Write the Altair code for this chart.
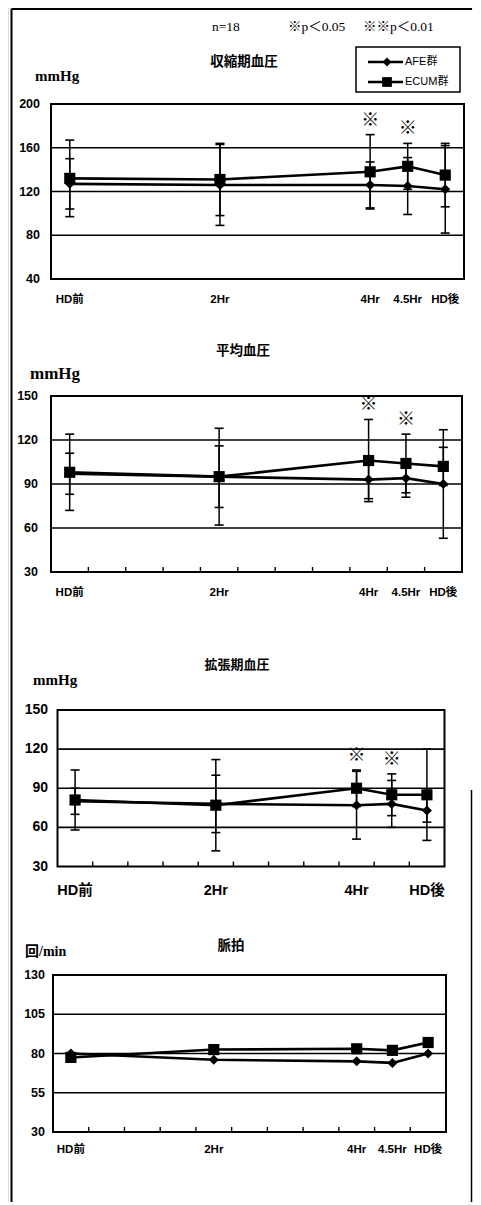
import altair as alt
import pandas as pd

# ---------------- data ----------------
times = [0, 2, 4, 4.5, 5]
time_labels = ["HD前", "2Hr", "4Hr", "4.5Hr", "HD後"]
groups = ["AFE群", "ECUM群"]

# 収縮期血圧
sys_afe = [127, 126, 126, 125, 122]
sys_afe_sd = [23, 37, 21, 26, 40]
sys_ecum = [132, 131, 138, 143, 135]
sys_ecum_sd = [35, 33, 34, 21, 29]
sys_sig = ["", "", "※", "※", ""]
sys_ticks = [40, 80, 120, 160, 200]

# 平均血圧
map_afe = [97, 95, 93, 94, 90]
map_afe_sd = [14, 21, 13, 13, 37]
map_ecum = [98, 95, 106, 104, 102]
map_ecum_sd = [26, 33, 28, 20, 13]
map_sig = ["", "", "※", "※", ""]
map_ticks = [30, 60, 90, 120, 150]

# 拡張期血圧
dia_afe = [80, 78, 77, 78, 73]
dia_afe_sd = [10, 22, 26, 18, 9]
dia_ecum = [81, 77, 90, 85, 85]
dia_ecum_sd = [23, 35, 14, 16, 35]
dia_sig = ["", "", "※", "※", ""]
dia_ticks = [30, 60, 90, 120, 150]

# 脈拍
pulse_afe = [80, 76, 75, 74, 80]
pulse_ecum = [77.5, 82.5, 83, 82, 87]
pulse_ticks = [30, 55, 80, 105, 130]

x_domain = [-0.25, 5.25]
minor_ticks = [0.25, 0.75, 1.25, 1.75, 2.25, 2.75, 3.25, 3.75, 4.25, 4.75]

SANS = "Liberation Sans, Arial, Noto Sans CJK JP"
CJK = "Noto Sans CJK JP"
SERIF = "Liberation Serif, Noto Sans CJK JP"


def series_df(afe, afe_sd, ecum, ecum_sd, sig):
    rows = []
    for i, t in enumerate(times):
        for g, vals, sds in ((groups[0], afe, afe_sd), (groups[1], ecum, ecum_sd)):
            sd = sds[i] if sds else 0
            rows.append(dict(t=t, group=g, mean=vals[i], lo=vals[i] - sd, hi=vals[i] + sd,
                             sig=(sig[i] if (sig and g == groups[1]) else "")))
    return pd.DataFrame(rows)


def panel(cfg):
    ticks = cfg["ticks"]
    xs = alt.Scale(domain=x_domain, range=cfg["xr"], nice=False, zero=False)
    ys = alt.Scale(domain=[ticks[0], ticks[-1]], range=cfg["yr"], nice=False, zero=False)

    def X(f):
        return alt.X(f, type="quantitative", scale=xs, axis=None)

    def Y(f):
        return alt.Y(f, type="quantitative", scale=ys, axis=None)

    df = series_df(cfg["afe"], cfg["afe_sd"], cfg["ecum"], cfg["ecum_sd"], cfg["sig"])
    layers = []

    grid_df = pd.DataFrame({"v": ticks[1:-1], "x0": x_domain[0], "x1": x_domain[1]})
    layers.append(alt.Chart(grid_df).mark_rule(color="black", strokeWidth=1.6).encode(
        x=X("x0"), x2=alt.X2("x1"), y=Y("v")))

    if cfg["minor"]:
        mt_df = pd.DataFrame({"m": minor_ticks, "b": ticks[0]})
        layers.append(alt.Chart(mt_df).mark_tick(orient="vertical", size=5, thickness=1.4,
                                                 color="black", yOffset=-2.5, opacity=1).encode(
            x=X("m"), y=Y("b")))

    yl_df = pd.DataFrame({"v": ticks})
    layers.append(alt.Chart(yl_df).mark_text(align="right", baseline="middle", font=SANS,
                                             fontSize=cfg["ylab_size"], fontWeight="bold",
                                             color="black").encode(
        y=Y("v"), x=alt.value(cfg["ylab_x"]), text=alt.Text("v:Q", format="d")))

    idx = cfg["xlab_idx"]
    xl_df = pd.DataFrame({"t": [times[i] for i in idx], "lab": [time_labels[i] for i in idx]})
    layers.append(alt.Chart(xl_df).mark_text(align="center", baseline="middle", font=SANS,
                                             fontSize=cfg["xlab_size"], fontWeight="bold",
                                             color="black").encode(
        x=X("t"), y=alt.value(cfg["xlab_y"]), text="lab:N"))

    if cfg["afe_sd"]:
        layers.append(alt.Chart(df).mark_rule(color="black", strokeWidth=1.5).encode(
            x=X("t"), y=Y("lo"), y2=alt.Y2("hi")))
        for f in ("lo", "hi"):
            layers.append(alt.Chart(df).mark_tick(orient="horizontal", size=9, thickness=1.6,
                                                  color="black", opacity=1).encode(
                x=X("t"), y=Y(f)))

    for g, shape, size in ((groups[0], "diamond", 100), (groups[1], "square", 125)):
        base = alt.Chart(df).transform_filter(alt.datum.group == g)
        layers.append(base.mark_line(color="black", strokeWidth=2.6).encode(
            x=X("t"), y=Y("mean")))
        layers.append(base.mark_point(shape=shape, size=size, filled=True, color="black",
                                      opacity=1).encode(x=X("t"), y=Y("mean")))

    if cfg["sig"]:
        sig_df = df[df["sig"] != ""]
        layers.append(alt.Chart(sig_df).mark_text(fontSize=18, dy=-14, baseline="middle",
                                                  font=CJK, color="black").encode(
            x=X("t"), y=Y("hi"), text="sig:N"))

    box_df = pd.DataFrame({"x0": [x_domain[0]], "x1": [x_domain[1]],
                           "y0": [ticks[0]], "y1": [ticks[-1]]})
    layers.append(alt.Chart(box_df).mark_rect(fillOpacity=0, stroke="black", strokeWidth=2).encode(
        x=X("x0"), x2=alt.X2("x1"), y=Y("y0"), y2=alt.Y2("y1")))

    one = pd.DataFrame({"s": [cfg["title"]], "u": [cfg["unit"]]})
    layers.append(alt.Chart(one).mark_text(align="center", baseline="middle", font=CJK,
                                           fontSize=cfg["title_size"], fontWeight="bold",
                                           color="black").encode(
        x=alt.value(cfg["title_xy"][0]), y=alt.value(cfg["title_xy"][1]), text="s:N"))
    layers.append(alt.Chart(one).mark_text(align="left", baseline="middle", font=SERIF,
                                           fontSize=cfg["unit_size"], fontWeight="bold",
                                           color="black").encode(
        x=alt.value(cfg["unit_xy"][0]), y=alt.value(cfg["unit_xy"][1]), text="u:N"))
    return alt.layer(*layers)


p1 = panel(dict(afe=sys_afe, afe_sd=sys_afe_sd, ecum=sys_ecum, ecum_sd=sys_ecum_sd, sig=sys_sig,
                ticks=sys_ticks, xr=[43, 456], yr=[271, 96], ylab_x=32, ylab_size=12.5,
                xlab_y=292, xlab_size=11.5, xlab_idx=[0, 1, 2, 3, 4], minor=False,
                title="収縮期血圧", title_xy=(236, 54), title_size=13.5,
                unit="mmHg", unit_xy=(27, 68), unit_size=15))
p2 = panel(dict(afe=map_afe, afe_sd=map_afe_sd, ecum=map_ecum, ecum_sd=map_ecum_sd, sig=map_sig,
                ticks=map_ticks, xr=[43, 454], yr=[564, 388], ylab_x=30, ylab_size=12.5,
                xlab_y=585, xlab_size=11.5, xlab_idx=[0, 1, 2, 3, 4], minor=True,
                title="平均血圧", title_xy=(235, 343), title_size=13.5,
                unit="mmHg", unit_xy=(22, 366), unit_size=17))
p3 = panel(dict(afe=dia_afe, afe_sd=dia_afe_sd, ecum=dia_ecum, ecum_sd=dia_ecum_sd, sig=dia_sig,
                ticks=dia_ticks, xr=[49.5, 436.5], yr=[858.5, 702], ylab_x=40, ylab_size=14,
                xlab_y=883, xlab_size=14.5, xlab_idx=[0, 1, 2, 4], minor=True,
                title="拡張期血圧", title_xy=(229, 657), title_size=13,
                unit="mmHg", unit_xy=(25, 672), unit_size=15))
p4 = panel(dict(afe=pulse_afe, afe_sd=None, ecum=pulse_ecum, ecum_sd=None, sig=None,
                ticks=pulse_ticks, xr=[45, 438], yr=[1124, 967], ylab_x=37, ylab_size=12.5,
                xlab_y=1142, xlab_size=11.5, xlab_idx=[0, 1, 2, 3, 4], minor=True,
                title="脈拍", title_xy=(223, 938), title_size=13.5,
                unit="回/min", unit_xy=(17, 944), unit_size=14))

# ---------------- header, legend, frame ----------------
row = pd.DataFrame({"a": [1]})
extras = []
for txt, x in (("n=18", 204), ("※p＜0.05", 280), ("※※p＜0.01", 355)):
    extras.append(alt.Chart(pd.DataFrame({"s": [txt]})).mark_text(
        align="left", baseline="middle", font=SERIF, fontSize=13.5, color="black").encode(
        x=alt.value(x), y=alt.value(19), text="s:N"))

extras.append(alt.Chart(row).mark_rect(fillOpacity=0, stroke="black", strokeWidth=1.5).encode(
    x=alt.value(348), x2=alt.value(452), y=alt.value(39), y2=alt.value(84)))
for g, shape, size, yy in ((groups[0], "diamond", 80, 54), (groups[1], "square", 95, 74)):
    extras.append(alt.Chart(row).mark_rule(color="black", strokeWidth=2.4).encode(
        x=alt.value(360), x2=alt.value(395), y=alt.value(yy)))
    extras.append(alt.Chart(row).mark_point(shape=shape, size=size, filled=True, color="black",
                                            opacity=1).encode(x=alt.value(379), y=alt.value(yy)))
    extras.append(alt.Chart(pd.DataFrame({"s": [g]})).mark_text(
        align="left", baseline="middle", font=SANS, fontSize=11, color="black").encode(
        x=alt.value(397), y=alt.value(yy), text="s:N"))

H = 1194
extras.append(alt.Chart(row).mark_rule(color="black", strokeWidth=2).encode(
    x=alt.value(3.5), y=alt.value(1), y2=alt.value(H)))
extras.append(alt.Chart(row).mark_rule(color="black", strokeWidth=2).encode(
    x=alt.value(3.5), x2=alt.value(464), y=alt.value(1)))
extras.append(alt.Chart(row).mark_rule(color="black", strokeWidth=1.5).encode(
    x=alt.value(463.5), y=alt.value(782), y2=alt.value(H)))

chart = alt.layer(p1, p2, p3, p4, *extras).resolve_scale(
    x="independent", y="independent"
).properties(
    width=465, height=H, padding=0,
    autosize=alt.AutoSizeParams(type="none"),
).configure_view(stroke=None).configure(background="white")

chart.save("out.html", embed_options={"renderer": "svg", "actions": False})
